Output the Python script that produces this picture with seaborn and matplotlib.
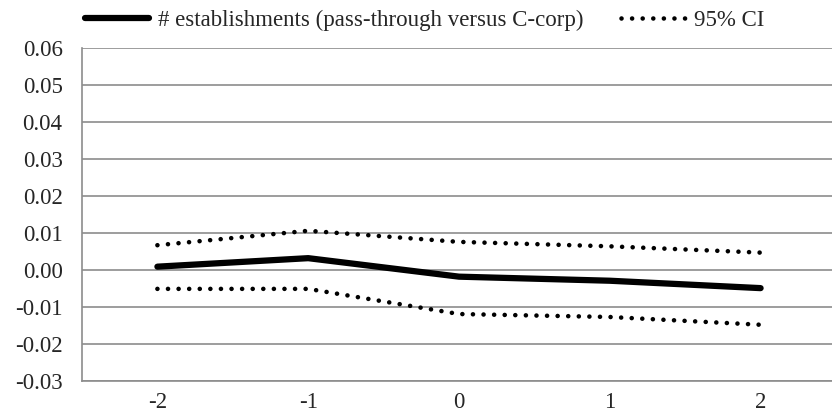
import numpy as np
import pandas as pd
import seaborn as sns
import matplotlib.pyplot as plt

# data
periods = [-2, -1, 0, 1, 2]
coef = [0.0009, 0.0032, -0.0018, -0.0029, -0.0049]
ci_upper = [0.0067, 0.0106, 0.0076, 0.0064, 0.0047]
ci_lower = [-0.0051, -0.0051, -0.0119, -0.0127, -0.0148]
ytick_vals = [0.06, 0.05, 0.04, 0.03, 0.02, 0.01, 0.00, -0.01, -0.02, -0.03]
ytick_labels = ["0.06", "0.05", "0.04", "0.03", "0.02", "0.01", "0.00", "-0.01", "-0.02", "-0.03"]
xtick_labels = ["-2", "-1", "0", "1", "2"]

df = pd.DataFrame({"t": periods, "coef": coef, "hi": ci_upper, "lo": ci_lower})

sns.set_style("white")
plt.rcParams['font.family'] = ['Liberation Serif', 'DejaVu Serif']
plt.rcParams['axes.unicode_minus'] = False

grey = "#8c8c8c"
fig = plt.figure(figsize=(8.32, 4.18), dpi=100)
ax = fig.add_axes([82/832, 1 - 381/418, (836 - 82)/832, (381 - 48)/418])

dotted = (0, (0.01, 2.3))
sns.lineplot(data=df, x="t", y="coef", ax=ax, color="black", linewidth=4.5,
             solid_capstyle="round", label="# establishments (pass-through versus C-corp)")
sns.lineplot(data=df, x="t", y="hi", ax=ax, color="black", linewidth=3.3,
             linestyle=dotted, dash_capstyle="round", label="95% CI")
sns.lineplot(data=df, x="t", y="lo", ax=ax, color="black", linewidth=3.3,
             linestyle=dotted, dash_capstyle="round", label="_nolegend_")

ax.set_xlim(-2.5, 2.5)
ax.set_ylim(-0.03, 0.06)
ax.set_yticks(ytick_vals)
ax.set_yticklabels(ytick_labels)
ax.set_xticks(periods)
ax.set_xticklabels(xtick_labels)
ax.set_xticks(np.arange(-2.5, 3.0, 1.0), minor=True)
ax.tick_params(axis="x", which="major", length=0, pad=8, labelsize=16.5)
ax.tick_params(axis="x", which="minor", length=5, width=1.1, color=grey, direction="out")
ax.tick_params(axis="y", length=5, width=1.1, color=grey, direction="out", pad=9, labelsize=16.5)
ax.set_xlabel("")
ax.set_ylabel("")

ax.grid(axis="y", color=grey, linewidth=1.2)
ax.set_axisbelow(True)
for s in ["top", "right"]:
    ax.spines[s].set_visible(False)
for s in ["left", "bottom"]:
    ax.spines[s].set_color(grey)
    ax.spines[s].set_linewidth(1.2)

ax.legend(loc="center left", bbox_to_anchor=(85/832, 1 - 20/418), bbox_transform=fig.transFigure,
          ncol=2, frameon=False, fontsize=16.5, handlelength=2.8, handletextpad=0.4,
          columnspacing=1.6, borderpad=0, borderaxespad=0)

fig.savefig("out.png", dpi=100)
